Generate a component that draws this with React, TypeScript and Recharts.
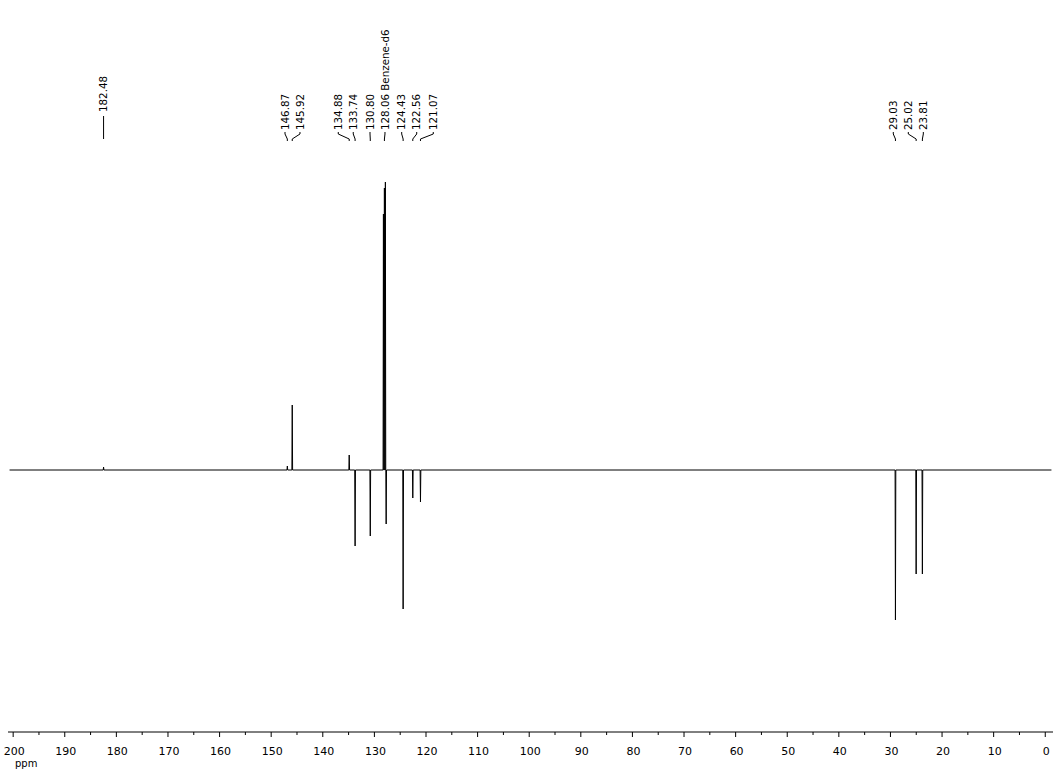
import React from 'react';
import { LineChart, Line, XAxis, YAxis, ReferenceLine, ReferenceDot } from 'recharts';

// Peak positions (ppm) and signed intensities (DEPT-like spectrum)
const peakShifts = [182.48, 146.87, 145.92, 134.88, 133.74, 130.8, 128.25, 128.06, 127.87, 127.72, 124.43, 122.56, 121.07, 29.03, 25.02, 23.81];
const peakHeights = [3, 4, 65, 15, -76, -66, 256, 282, 288, -54, -139, -28, -32, -150, -104, -104];

// Spectrum extent
const spectrumStart = 200.7;
const spectrumEnd = -1.2;

// Axis ticks
const axisTicks = [200, 195, 190, 185, 180, 175, 170, 165, 160, 155, 150, 145, 140, 135, 130, 125, 120, 115, 110, 105, 100, 95, 90, 85, 80, 75, 70, 65, 60, 55, 50, 45, 40, 35, 30, 25, 20, 15, 10, 5, 0];

// Peak labels
const labelTexts = ['182.48', '146.87', '145.92', '134.88', '133.74', '130.80', '128.06 Benzene-d6', '124.43', '122.56', '121.07', '29.03', '25.02', '23.81'];
const labelTargets = [182.48, 146.87, 145.92, 134.88, 133.74, 130.8, 128.06, 124.43, 122.56, 121.07, 29.03, 25.02, 23.81];
const labelSpots = [182.48, 147.32, 144.42, 137.0, 134.1, 130.85, 127.95, 124.71, 121.8, 118.59, 29.45, 26.54, 23.63];

const FONT = '"DejaVu Sans", Verdana, sans-serif';

type Pt = { ppm: number; v: number };

const buildSpectrum = (): Pt[] => {
  const pts: Pt[] = [];
  pts.push({ ppm: spectrumStart, v: 0 });
  pts.push({ ppm: spectrumEnd, v: 0 });
  peakShifts.forEach((p, i) => {
    pts.push({ ppm: p + 0.07, v: 0 });
    pts.push({ ppm: p, v: peakHeights[i] });
    pts.push({ ppm: p - 0.07, v: 0 });
  });
  pts.sort((a, b) => b.ppm - a.ppm);
  return pts;
};

const spectrum = buildSpectrum();

const AxisTick = (props: any) => {
  const { x, y, payload } = props;
  const v = payload.value as number;
  const major = v % 10 === 0;
  return (
    <g>
      <line x1={x} x2={x} y1={y} y2={y + (major ? 5 : 3)} stroke="#000" strokeWidth={1} />
      {major && (
        <text x={x + 1} y={y + 23} textAnchor="middle" fontSize={11} fontFamily={FONT} fill="#000">
          {v}
        </text>
      )}
      {v === 200 && (
        <text x={x + 13} y={y + 35} textAnchor="middle" fontSize={10} fontFamily={FONT} fill="#000">
          ppm
        </text>
      )}
    </g>
  );
};

const makeLabel = (text: string) => (props: any) => {
  const vb = props.viewBox || {};
  const cx = (vb.x ?? 0) + (vb.width ?? 0) / 2;
  const cy = (vb.y ?? 0) + (vb.height ?? 0) / 2;
  return (
    <text
      transform={`rotate(-90 ${cx} ${cy})`}
      x={cx}
      y={cy}
      dy="0.36em"
      textAnchor="start"
      fontSize={10.3}
      fontFamily={FONT}
      fill="#000"
    >
      {text}
    </text>
  );
};

export default function App() {
  const connectors: React.ReactNode[] = [];
  const labels: React.ReactNode[] = [];
  labelTexts.forEach((t, i) => {
    const spot = labelSpots[i];
    const target = labelTargets[i];
    const single = i === 0;
    const textBase = single ? 358 : 340;
    const top = single ? 354 : 338;
    const bottom = single ? 331 : 329;
    if (single) {
      connectors.push(
        <ReferenceLine key={`c${i}`} segment={[{ x: spot, y: top }, { x: target, y: bottom }]} stroke="#000" strokeWidth={1} />
      );
    } else {
      connectors.push(
        <ReferenceLine key={`c${i}a`} segment={[{ x: spot, y: top }, { x: spot, y: top - 2 }]} stroke="#000" strokeWidth={1} />,
        <ReferenceLine key={`c${i}b`} segment={[{ x: spot, y: top - 2 }, { x: target, y: bottom + 2 }]} stroke="#000" strokeWidth={1} />,
        <ReferenceLine key={`c${i}c`} segment={[{ x: target, y: bottom + 2 }, { x: target, y: bottom }]} stroke="#000" strokeWidth={1} />
      );
    }
    labels.push(
      <ReferenceDot key={`l${i}`} x={spot} y={textBase} r={0} fill="none" stroke="none" label={{ content: makeLabel(t) } as any} />
    );
  });

  return (
    <div style={{ position: 'absolute', left: 0, top: 0, width: 1054, height: 770, background: '#fff' }}>
      <LineChart width={1054} height={770} data={spectrum} margin={{ top: 0, right: 1, bottom: 0, left: 8 }}>
        <XAxis
          dataKey="ppm"
          type="number"
          domain={[-1.5, 201]}
          reversed
          allowDataOverflow
          ticks={axisTicks}
          interval={0}
          tickSize={0}
          tickMargin={0}
          tickLine={false}
          tick={<AxisTick />}
          height={38}
          stroke="#000"
          axisLine={{ stroke: '#000', strokeWidth: 1 }}
        />
        <YAxis type="number" domain={[-262, 470]} allowDataOverflow hide />
        <Line
          type="linear"
          dataKey="v"
          stroke="#000"
          strokeWidth={1}
          dot={false}
          activeDot={false}
          isAnimationActive={false}
        />
        {connectors}
        {labels}
      </LineChart>
    </div>
  );
}
